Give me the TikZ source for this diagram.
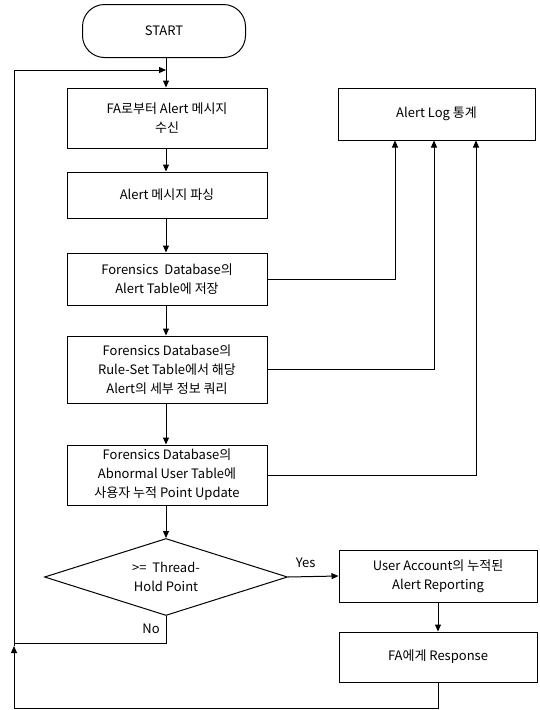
\documentclass[tikz,border=0pt]{standalone}
\usepackage{fontspec}
\setmainfont{Noto Sans CJK KR}
\usetikzlibrary{shapes.geometric,arrows.meta}

\begin{document}
\begin{tikzpicture}[x=1pt,y=-1pt,
  line width=1pt,
  every node/.style={font=\fontsize{13}{19}\selectfont, align=center, inner sep=0pt},
  procbox/.style={draw, rectangle, minimum width=200pt},
  termbox/.style={draw, rectangle, rounded corners=22pt, minimum width=163pt, minimum height=53pt},
  decbox/.style={draw, diamond, aspect=3.2, minimum width=243pt, minimum height=77pt},
  flow/.style={-{Triangle[length=7pt,width=6pt]}},
  lbl/.style={font=\fontsize{13}{15}\selectfont}
]
\useasboundingbox (0,0) rectangle (540,710);

% main column
\node[termbox] (start) at (164,31) {START};
\node[procbox, minimum height=60pt] (recv) at (167,118) {FA로부터 Alert 메시지\\수신};
\node[procbox, minimum height=46pt] (parse) at (167,195) {Alert 메시지 파싱};
\node[procbox, minimum height=52pt] (store) at (167,279) {Forensics\ \ Database의\\Alert Table에 저장};
\node[procbox, minimum height=67pt] (query) at (167,369.5) {Forensics Database의\\Rule-Set Table에서 해당\\Alert의 세부 정보 쿼리};
\node[procbox, minimum height=60pt] (update) at (167,475) {Forensics Database의\\Abnormal User Table에\\사용자 누적 Point Update};
\node[decbox] (check) at (166,577) {>=\ \ Thread-\\Hold Point};

% right column
\node[procbox, minimum width=197pt, minimum height=52pt] (stat) at (436.5,114) {Alert Log 통계};
\node[procbox, minimum width=198pt, minimum height=52pt] (report) at (438,576) {User Account의 누적된\\Alert Reporting};
\node[procbox, minimum width=198pt, minimum height=50pt] (resp) at (438,657) {FA에게 Response};

% loop-back points
\coordinate (entry) at (166,70);
\coordinate (loopB) at (14,708);
\coordinate (loopM) at (14,646);
\coordinate (loopT) at (14,70);
\coordinate (noC) at (166,643);
\coordinate (noL) at (14,643);

% main flow
\draw[flow] (start.south -| entry) -- (recv.north -| entry);
\draw[flow] (recv.south -| entry) -- (parse.north -| entry);
\draw[flow] (parse.south -| entry) -- (store.north -| entry);
\draw[flow] (store.south -| entry) -- (query.north -| entry);
\draw[flow] (query.south -| entry) -- (update.north -| entry);
\draw[flow] (update.south -| entry) -- (check.north);

% statistics feeds
\draw[flow] (store.east) -| ([xshift=-41.5pt]stat.south);
\draw[flow] (query.east) -| ([xshift=-2.5pt]stat.south);
\draw[flow] (update.east) -| ([xshift=39.5pt]stat.south);

% decision branches
\draw[flow] (check.east) -- (report.west) node[lbl, pos=0.35, above=8pt] (yes) {Yes};
\draw (check.south) -- (noC) -- (noL);
\node[lbl] (no) at (151,629) {No};
\draw[flow] (report.south) -- (resp.north);

% return loop
\draw[flow] (resp.south) |- (loopB) -- (loopM);
\draw[flow] (loopM) -- (loopT) -- (entry);
\end{tikzpicture}
\end{document}
